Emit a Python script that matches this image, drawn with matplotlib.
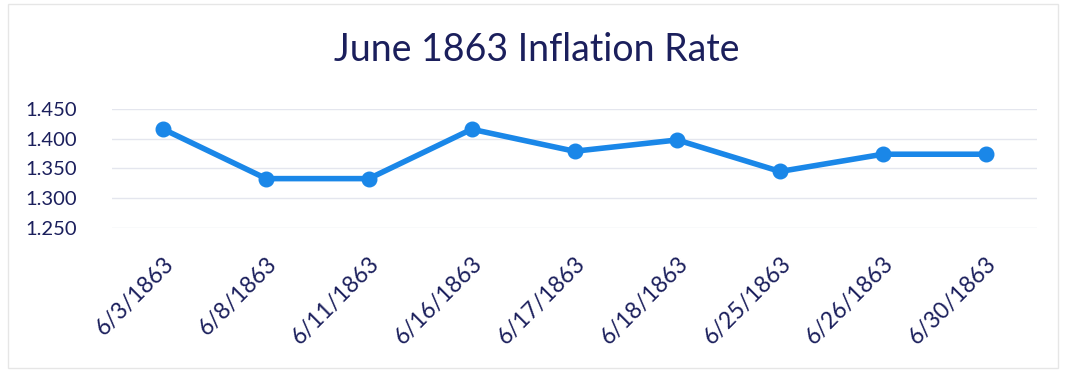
import matplotlib
matplotlib.use("Agg")
import matplotlib.pyplot as plt
from matplotlib.patches import Rectangle

dates = ["6/3/1863", "6/8/1863", "6/11/1863", "6/16/1863", "6/17/1863",
         "6/18/1863", "6/25/1863", "6/26/1863", "6/30/1863"]
rates = [1.416, 1.333, 1.333, 1.416, 1.379, 1.398, 1.345, 1.374, 1.374]
yticks = [1.250, 1.300, 1.350, 1.400, 1.450]

navy = "#1b1f5c"
blue = "#1a87e8"

plt.rcParams['font.family'] = ['Lato', 'DejaVu Sans']

fig = plt.figure(figsize=(10.65, 3.75), dpi=100)
ax = fig.add_axes([112/1065, 1 - 228/375, (1037-112)/1065, (228-109)/375])

x = list(range(len(dates)))
ax.plot(x, rates, color=blue, lw=4.0, marker='o', ms=10.5, solid_capstyle='round')
ax.set_xlim(-0.5, len(dates) - 0.5)
ax.set_ylim(1.25, 1.45)
ax.set_yticks(yticks)
ax.set_yticklabels([f"{v:.3f}" for v in yticks], color=navy, fontsize=14.5)
ax.set_xticks(x)
ax.set_xticklabels(dates, rotation=45, ha='right', va='top', rotation_mode='anchor',
                   color=navy, fontsize=16.5)
ax.tick_params(axis='both', length=0)
ax.tick_params(axis='y', pad=25)
ax.tick_params(axis='x', pad=18)
for s in ax.spines.values():
    s.set_visible(False)
ax.grid(axis='y', color='#e4e6ee', lw=1)
ax.set_axisbelow(True)

fig.text(537/1065, 1 - 50/375, "June 1863 Inflation Rate", ha='center', va='center',
         fontsize=27, color=navy)

fig.patches.append(Rectangle((8/1065, 1 - 368/375), (1058-8)/1065, (368-4)/375,
                             transform=fig.transFigure, fill=False, ec='#e6e6e6', lw=1))

fig.savefig("out.png", dpi=100, facecolor='white')
